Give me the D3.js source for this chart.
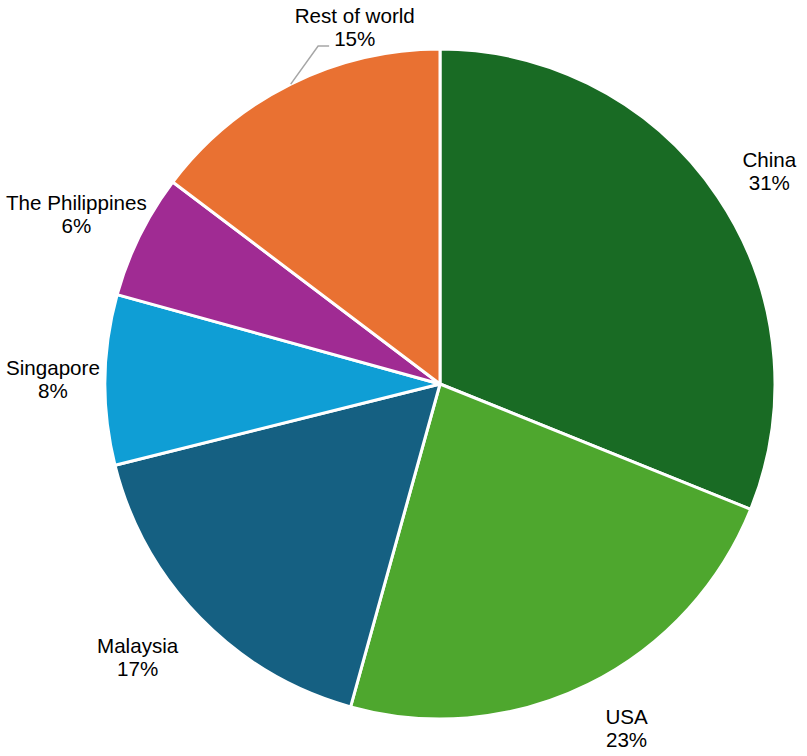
<!DOCTYPE html>
<html>
<head>
<meta charset="utf-8">
<script src="https://cdn.jsdelivr.net/npm/d3@7/dist/d3.min.js"></script>
<style>
  body { margin: 0; background: #fff; }
  svg { display: block; }
</style>
</head>
<body>
<svg width="807" height="756"></svg>
<script>
// pie data (share of total, %); labels show rounded values
var categories = ["China", "USA", "Malaysia", "Singapore", "The Philippines", "Rest of world"];
var shares = [31.1, 23.2, 16.8, 8.2, 6.0, 14.7];
var colors = ["#196B24", "#4EA72E", "#156082", "#0F9ED5", "#A02B93", "#E97132"];

var svg = d3.select("svg"),
    cx = 440, cy = 384,
    radius = 335,
    labelGap = 25,
    lineH = 23;

// small hand tweaks of label placement (layout only)
var labelNudge = [[4, 13], [6, -2], [-4, -2], [0, 0], [3, 14], [0, 0]];

var data = categories.map(function(c, i) {
    return { name: c, value: shares[i], color: colors[i] };
});

var pie = d3.pie().sort(null).value(function(d) { return d.value; });
var arc = d3.arc().innerRadius(0).outerRadius(radius);
var arcs = pie(data);

var g = svg.append("g").attr("transform", "translate(" + cx + "," + cy + ")");

g.selectAll("path.slice")
    .data(arcs)
    .enter().append("path")
    .attr("class", "slice")
    .attr("d", arc)
    .attr("fill", function(d) { return d.data.color; })
    .attr("stroke", "#fff")
    .attr("stroke-width", 3)
    .attr("stroke-linejoin", "round");

// labels: name + percent, outside end of each slice
var labels = g.selectAll("g.lbl")
    .data(arcs)
    .enter().append("g")
    .attr("class", "lbl");

labels.each(function(d, i) {
    var lg = d3.select(this);
    var t1 = lg.append("text").text(d.data.name);
    var t2 = lg.append("text").text(Math.round(d.data.value) + "%");
    lg.selectAll("text")
        .attr("text-anchor", "middle")
        .style("font-family", "'Liberation Sans', Arial, sans-serif")
        .style("font-size", "20.6px")
        .style("fill", "#000");
    var w = Math.max(t1.node().getComputedTextLength(), t2.node().getComputedTextLength());
    var h = 48;
    var a = (d.startAngle + d.endAngle) / 2;
    var dx = Math.sin(a), dy = -Math.cos(a);
    // nearest corner of the label box sits just outside the pie
    var px = (radius + labelGap) * dx, py = (radius + labelGap) * dy;
    var sx = Math.abs(dx) < 0.1 ? 0 : Math.sign(dx);
    var sy = Math.abs(dy) < 0.1 ? 0 : Math.sign(dy);
    var mx = px + sx * w / 2, my = py + sy * h / 2;

    var leader = (i === arcs.length - 1);
    if (leader) {
        // Rest of world was pulled up above the pie, with a leader line
        my = -radius - h / 2 + 2.5;
        mx = radius * dx + 64;
    }
    mx += labelNudge[i][0];
    my += labelNudge[i][1];
    // keep inside the chart area
    var left = mx - w / 2 + cx;
    if (left < 6) mx += 6 - left;

    t1.attr("x", mx).attr("y", my - 4.5);
    t2.attr("x", mx).attr("y", my - 4.5 + lineH);

    if (leader) {
        var ex = radius * dx, ey = radius * dy;
        var t2w = t2.node().getComputedTextLength();
        var ly = my - 4.5 + lineH;
        var lx = mx - t2w / 2 - 5;
        lg.append("polyline")
            .attr("points", [[ex, ey], [lx - 11, ly], [lx, ly]].map(function(p) { return p.join(","); }).join(" "))
            .attr("fill", "none")
            .attr("stroke", "#a6a6a6")
            .attr("stroke-width", 1.5);
    }
});
</script>
</body>
</html>
